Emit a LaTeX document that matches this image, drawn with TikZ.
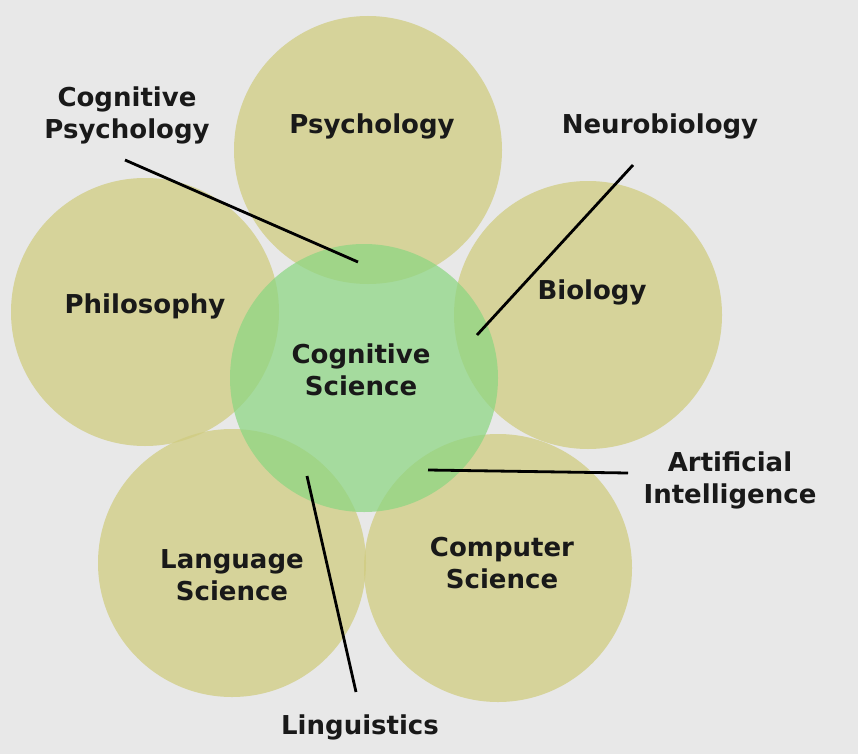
\documentclass[tikz,border=0pt]{standalone}
\usepackage{fontspec}
\setmainfont{DejaVu Sans}
\begin{document}
\begin{tikzpicture}[x=1pt,y=-1pt,
  disc/.style={circle,minimum size=268pt,inner sep=0pt,fill={rgb,255:red,208;green,204;blue,128},fill opacity=0.75},
  core/.style={circle,minimum size=268pt,inner sep=0pt,fill={rgb,255:red,140;green,214;blue,130},fill opacity=0.72},
  lbl/.style={font=\fontsize{26}{32}\selectfont\bfseries,align=center,text=black!90},
  ptr/.style={line width=2.8pt,black}]
\fill[black!9] (0,0) rectangle (858,754);
\useasboundingbox (0,0) rectangle (858,754);
\node[disc] (psy) at (368,150) {};
\node[lbl] (psyt) at (372,126) {Psychology};
\node[disc] (phi) at (145,312) {};
\node[lbl] (phit) at (145,306) {Philosophy};
\node[disc] (bio) at (588,315) {};
\node[lbl] (biot) at (592,292) {Biology};
\node[disc] (lang) at (232,563) {};
\node[lbl] (langt) at (232,575) {Language\\Science};
\node[disc] (comp) at (498,568) {};
\node[lbl] (compt) at (502,563) {Computer\\Science};
\node[core] (cog) at (364,378) {};
\node[lbl] (cogt) at (361,370) {Cognitive\\Science};
\node[lbl] (cpsy) at (127,115) {Cognitive\\Psychology};
\node[lbl] (neuro) at (660,126) {Neurobiology};
\node[lbl] (ai) at (730,480) {Artificial\\Intelligence};
\node[lbl] (ling) at (360,727) {Linguistics};
\coordinate (a1) at (125,160); \coordinate (a2) at (358,262);
\coordinate (b1) at (633,165); \coordinate (b2) at (477,335);
\coordinate (c1) at (628,473); \coordinate (c2) at (428,470);
\coordinate (d1) at (356,692); \coordinate (d2) at (307,476);
\draw[ptr] (a1) -- (a2);
\draw[ptr] (b1) -- (b2);
\draw[ptr] (c1) -- (c2);
\draw[ptr] (d1) -- (d2);
\end{tikzpicture}
\end{document}
